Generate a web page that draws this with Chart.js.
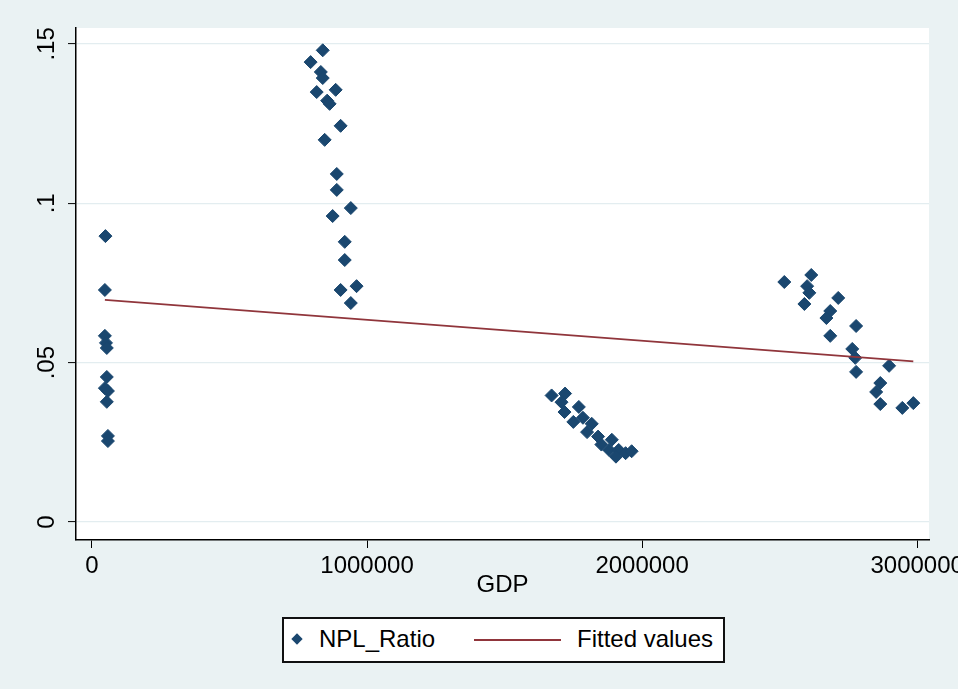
<!DOCTYPE html>
<html>
<head>
<meta charset="utf-8">
<script src="https://cdn.jsdelivr.net/npm/chart.js@4"></script>
<style>
  html, body { margin: 0; padding: 0; background: #eaf2f3; }
  #wrap { position: relative; width: 958px; height: 689px; }
  #legend {
    position: absolute; left: 282px; top: 617px; width: 439px; height: 42px;
    border: 2px solid #111; background: #fff;
    font-family: 'Liberation Sans', Arial, sans-serif; font-size: 24px; color: #000;
  }
  #legend .diamond {
    position: absolute; left: 9px; top: 16px; width: 8px; height: 8px;
    background: #1a476f; transform: rotate(45deg);
  }
  #legend .line { position: absolute; left: 190px; top: 20px; width: 87px; height: 2px; background: #90353b; }
  #legend .txt { position: absolute; top: 5px; line-height: 30px; white-space: nowrap; }
</style>
</head>
<body>
<div id="wrap">
  <canvas id="chart" width="958" height="689"></canvas>
  <div id="legend">
    <span class="diamond"></span><span class="txt" style="left:35px">NPL_Ratio</span>
    <span class="line"></span><span class="txt" style="left:293px">Fitted values</span>
  </div>
</div>
<script>
const GDP = [
    49000, 47000, 47000, 51000, 54000, 54000, 47000, 58000, 54000, 58000, 58000,
    839000, 795000, 832000, 839000, 817000, 886000, 855000, 864000, 904000, 846000,
    890000, 890000, 941000, 875000, 919000, 919000, 962000, 904000, 941000,
    1671000, 1720000, 1707000, 1718000, 1770000, 1750000, 1785000, 1817000, 1800000,
    1840000, 1852000, 1890000, 1880000, 1915000, 1940000, 1962000, 1905000,
    2517000, 2615000, 2600000, 2608000, 2590000, 2713000, 2684000, 2670000, 2778000,
    2684000, 2764000, 2775000, 2778000, 2898000, 2866000, 2851000, 2866000, 2946000, 2986000,
];
const NPL_RATIO = [
    0.0897, 0.0728, 0.0584, 0.0562, 0.0546, 0.0455, 0.0420, 0.0411, 0.0377, 0.0270, 0.0254,
    0.1480, 0.1443, 0.1412, 0.1393, 0.1349, 0.1356, 0.1322, 0.1312, 0.1243, 0.1199,
    0.1092, 0.1042, 0.0985, 0.0960, 0.0879, 0.0822, 0.0740, 0.0728, 0.0687,
    0.0397, 0.0403, 0.0376, 0.0345, 0.0361, 0.0314, 0.0327, 0.0308, 0.0282,
    0.0268, 0.0243, 0.0258, 0.0226, 0.0226, 0.0216, 0.0222, 0.0205,
    0.0753, 0.0775, 0.0740, 0.0719, 0.0684, 0.0703, 0.0662, 0.0640, 0.0615,
    0.0584, 0.0543, 0.0515, 0.0471, 0.0490, 0.0436, 0.0408, 0.0370, 0.0358, 0.0373,
];
// fitted line end points
const FIT_GDP = [47000, 2986000];
const FIT_NPL = [0.0697, 0.0504];

const X_TICKS = [0, 1000000, 2000000, 3000000];
const Y_TICKS = [0, 0.05, 0.1, 0.15];
const Y_TICK_LABELS = ['0', '.05', '.1', '.15'];

const FONT = "'Liberation Sans', Arial, sans-serif";

const plotBg = {
    id: 'plotBg',
    beforeDraw(chart) {
        const { ctx, chartArea: a } = chart;
        ctx.save();
        ctx.fillStyle = '#ffffff';
        ctx.fillRect(a.left, a.top, a.right - a.left, a.bottom - a.top);
        ctx.restore();
    },
};

new Chart(document.getElementById('chart'), {
    type: 'scatter',
    data: {
        datasets: [
            {
                label: 'Fitted values',
                data: FIT_GDP.map((x, i) => ({ x, y: FIT_NPL[i] })),
                showLine: true,
                borderColor: '#90353b',
                borderWidth: 1.6,
                pointRadius: 0,
                order: 0,
            },
            {
                label: 'NPL_Ratio',
                data: GDP.map((x, i) => ({ x, y: NPL_RATIO[i] })),
                pointStyle: 'rectRot',
                pointRadius: 6.5,
                backgroundColor: '#1a476f',
                borderColor: '#1a476f',
                borderWidth: 1,
                order: 1,
            },
        ],
    },
    options: {
        responsive: false,
        animation: false,
        layout: { padding: { top: 28, right: 29, bottom: 89, left: 0 } },
        plugins: {
            legend: { display: false },
            tooltip: { enabled: false },
        },
        scales: {
            x: {
                type: 'linear',
                min: -58000,
                max: 3043000,
                afterBuildTicks: (s) => { s.ticks = X_TICKS.map(v => ({ value: v })); },
                afterFit: (s) => { s.height = 60; s.paddingLeft = 0; s.paddingRight = 0; },
                grid: { drawOnChartArea: false, tickLength: 8, tickColor: '#000', tickWidth: 1 },
                border: { color: '#000', width: 1.5 },
                ticks: {
                    color: '#000', padding: 4, maxRotation: 0, autoSkip: false,
                    font: { family: FONT, size: 24 },
                    callback: (v) => String(v),
                },
                title: {
                    display: true, text: 'GDP', color: '#000', padding: 0,
                    font: { family: FONT, size: 24 },
                },
            },
            y: {
                type: 'linear',
                min: -0.00565,
                max: 0.155,
                afterBuildTicks: (s) => { s.ticks = Y_TICKS.map(v => ({ value: v })); },
                afterFit: (s) => { s.width = 76; s.paddingTop = 0; s.paddingBottom = 0; },
                grid: { color: '#e3edf0', lineWidth: 1.2, tickLength: 8, tickColor: '#000', tickWidth: 1 },
                border: { color: '#000', width: 1.5 },
                ticks: {
                    color: '#000', padding: 4, minRotation: 90, maxRotation: 90,
                    crossAlign: 'center', autoSkip: false,
                    font: { family: FONT, size: 24 },
                    callback: (v, i) => Y_TICK_LABELS[i],
                },
            },
        },
    },
    plugins: [plotBg],
});
</script>
</body>
</html>
